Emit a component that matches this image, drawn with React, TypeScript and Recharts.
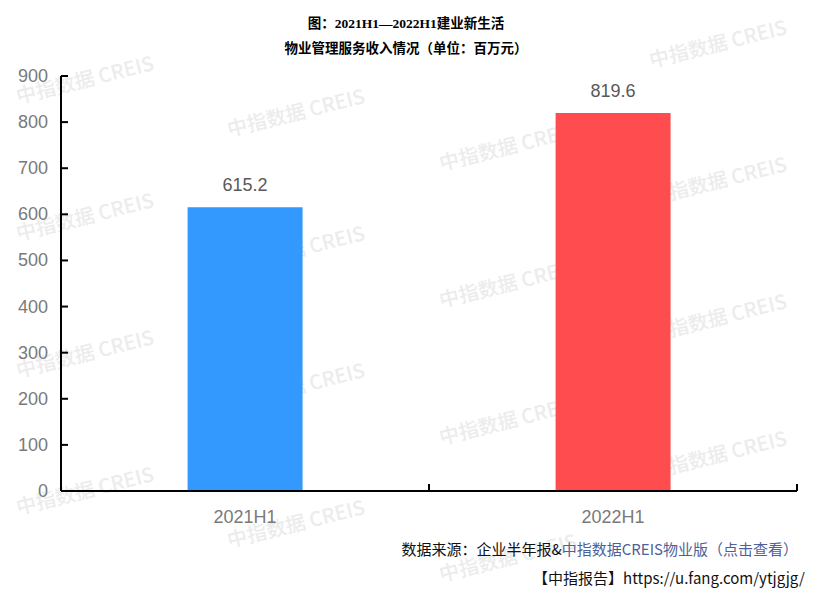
import { Bar, BarChart, Cell, LabelList, XAxis, YAxis } from "recharts";

const PERIODS = ["2021H1", "2022H1"];
const REVENUE = [615.2, 819.6];
const BAR_COLORS = ["#3399ff", "#ff4d4f"];
const Y_TICKS = [0, 100, 200, 300, 400, 500, 600, 700, 800, 900];

const TITLE_1 = "图：2021H1—2022H1建业新生活";
const TITLE_2 = "物业管理服务收入情况（单位：百万元）";
const SOURCE_PREFIX = "数据来源：企业半年报&";
const SOURCE_LINK = "中指数据CREIS物业版（点击查看）";
const REPORT_LINE = "【中指报告】https://u.fang.com/ytjgjg/";

const WATERMARK = "中指数据 CREIS";
// watermark tile centres
const MARKS: [number, number][] = [
  [85, 80], [85, 217], [85, 354], [85, 491],
  [296, 113], [296, 250], [296, 387], [296, 524],
  [508, 147], [508, 284], [508, 421], [508, 558],
  [718, 44], [718, 181], [718, 318], [718, 455],
];

const data = PERIODS.map((p, i) => ({ name: p, value: REVENUE[i] }));

const SANS = "'Liberation Sans', Arial, 'Noto Sans CJK SC', sans-serif";
const GRAY = "#7a7a7a";

function YTick({ x, y, payload }: any) {
  return (
    <g>
      <line x1={x} x2={x + 7} y1={y} y2={y} stroke="#000" strokeWidth={2} />
      <text x={x - 13} y={y} dy={6} textAnchor="end" fontSize={18} fill={GRAY} fontFamily={SANS}>
        {payload.value}
      </text>
    </g>
  );
}

function XTick({ x, y, payload, width, visibleTicksCount }: any) {
  const half = width / visibleTicksCount / 2;
  const edge = x + half;
  return (
    <g>
      <line x1={edge} x2={edge} y1={y} y2={y - 7} stroke="#000" strokeWidth={2} />
      <text x={x} y={y} dy={32} textAnchor="middle" fontSize={18} fill={GRAY} fontFamily={SANS}>
        {payload.value}
      </text>
    </g>
  );
}

export default function App() {
  return (
    <div style={{ position: "relative", width: 836, height: 610, background: "#fff", overflow: "hidden" }}>
      <style>{`body{margin:0}`}</style>
      <svg width={836} height={610} style={{ position: "absolute", left: 0, top: 0 }}>
        {MARKS.map(([cx, cy], i) => (
          <text
            key={i}
            x={cx}
            y={cy}
            dy={7}
            textAnchor="middle"
            fontSize={20}
            fontWeight={500}
            fill="#ececec"
            fontFamily="'Noto Sans CJK SC', sans-serif"
            transform={`rotate(-14 ${cx} ${cy})`}
          >
            {WATERMARK}
          </text>
        ))}
      </svg>
      <div style={{ position: "absolute", left: 0, top: 0 }}>
        <BarChart
          width={836}
          height={610}
          data={data}
          margin={{ top: 76, left: 11, right: 39, bottom: 79 }}
          barCategoryGap="34.4%"
        >
          <XAxis
            dataKey="name"
            height={40}
            tickLine={false}
            tickSize={0}
            tickMargin={0}
            axisLine={{ stroke: "#000", strokeWidth: 2 }}
            tick={<XTick />}
            interval={0}
          />
          <YAxis
            width={50}
            domain={[0, 900]}
            ticks={Y_TICKS}
            interval={0}
            tickLine={false}
            tickSize={0}
            tickMargin={0}
            axisLine={{ stroke: "#000", strokeWidth: 2 }}
            tick={<YTick />}
          />
          <Bar dataKey="value" isAnimationActive={false}>
            {data.map((d, i) => (
              <Cell key={d.name} fill={BAR_COLORS[i]} />
            ))}
            <LabelList dataKey="value" position="top" offset={16} fontSize={18} fill="#595959" fontFamily={SANS} />
          </Bar>
        </BarChart>
      </div>
      <div
        style={{
          position: "absolute",
          left: 0,
          width: 812,
          top: 11,
          textAlign: "center",
          fontFamily: "'Liberation Serif', 'Noto Sans CJK SC', serif",
          fontWeight: "bold",
          fontSize: 13.5,
          lineHeight: "25px",
          color: "#000",
        }}
      >
        <div>{TITLE_1}</div>
        <div>{TITLE_2}</div>
      </div>
      <div
        style={{
          position: "absolute",
          right: 38,
          top: 538,
          fontFamily: "'Noto Sans CJK SC', sans-serif",
          fontSize: 15,
          lineHeight: "22px",
          color: "#111",
          whiteSpace: "nowrap",
        }}
      >
        {SOURCE_PREFIX}
        <span style={{ color: "#4e5f99" }}>{SOURCE_LINK}</span>
      </div>
      <div
        style={{
          position: "absolute",
          right: 31,
          top: 567,
          fontFamily: "'Noto Sans CJK SC', sans-serif",
          fontSize: 15,
          lineHeight: "22px",
          color: "#111",
          whiteSpace: "nowrap",
        }}
      >
        {REPORT_LINE}
      </div>
    </div>
  );
}
